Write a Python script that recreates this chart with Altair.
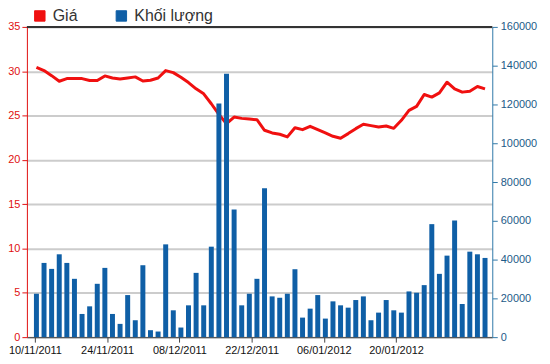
import altair as alt
import pandas as pd

# ---- data ----
date_labels = ["10/11/2011", "24/11/2011", "08/12/2011", "22/12/2011", "06/01/2012", "20/01/2012"]

price = [30.44, 30.07, 29.5, 28.87, 29.17, 29.17, 29.17, 28.95, 28.95, 29.47,
         29.24, 29.13, 29.24, 29.36, 28.9, 28.98, 29.24, 30.07, 29.84, 29.32,
         28.72, 28.01, 27.45, 26.33, 25.13, 24.08, 24.83, 24.68, 24.6, 24.53,
         23.34, 23.04, 22.89, 22.59, 23.63, 23.41, 23.78, 23.41, 23.04, 22.66,
         22.44, 22.96, 23.52, 24.01, 23.86, 23.71, 23.82, 23.56, 24.46, 25.58,
         26.03, 27.37, 27.08, 27.56, 28.76, 28.01, 27.64, 27.75, 28.27, 28.01]

volume = [22390, 38280, 35200, 42730, 38280, 30080, 11960, 15890, 27510, 35720,
          11960, 6840, 21700, 8720, 37090, 3590, 2900, 47850, 13840, 4960,
          16410, 33150, 16410, 46660, 120480, 135870, 65800, 16410, 22390, 30080,
          76730, 21020, 20340, 22390, 35030, 10080, 14700, 21700, 9570, 18460,
          16410, 15210, 19140, 21020, 8720, 12650, 19140, 13840, 12650, 23580,
          22900, 26830, 58280, 32640, 42040, 60160, 17090, 44090, 42730, 40850]

series_names = ["Giá", "Khối lượng"]
series_colors = ["#f01010", "#0f5fa6"]

df = pd.DataFrame({"i": list(range(len(price))), "price": price, "volume": volume})

FONT = "Liberation Sans"
tick_start, tick_step = -0.2, 9.5
label_pos = [tick_start + tick_step * k for k in range(len(date_labels))]
label_expr = "[" + ",".join("'%s'" % d for d in date_labels) + "][round((datum.value - (%s)) / %s)]" % (tick_start, tick_step)

xscale = alt.Scale(domain=[-0.6, 59.3], nice=False, zero=False)
xaxis = alt.Axis(values=label_pos, labelExpr=label_expr, title=None, grid=False,
                 tickSize=5, tickColor="#444", domainColor="#444", labelColor="#111",
                 labelFontSize=11, labelFont=FONT, labelPadding=2, labelFlush=False,
                 labelOverlap=False)

color_scale = alt.Scale(domain=series_names, range=series_colors)
legend = alt.Legend(title=None, orient="none", legendX=5, legendY=-19, direction="horizontal",
                    symbolType="square", symbolSize=110, symbolStrokeWidth=1,
                    symbolStrokeColor="#333", labelFont=FONT, labelFontSize=16,
                    labelColor="#333", columnPadding=36, labelOffset=5)

base = alt.Chart(df)

line = base.transform_calculate(s="'Giá'").mark_line(strokeWidth=3, strokeJoin="round").encode(
    x=alt.X("i:Q", scale=xscale, axis=xaxis),
    y=alt.Y("price:Q", scale=alt.Scale(domain=[0, 35], nice=False),
            axis=alt.Axis(orient="left", values=list(range(0, 36, 5)), title=None,
                          grid=True, gridColor="#cccccc", gridWidth=2,
                          domainColor="#e01010", tickColor="#e01010", labelColor="#e01010",
                          tickSize=5, labelFont=FONT, labelFontSize=11, labelPadding=2)),
    color=alt.Color("s:N", scale=color_scale, legend=legend),
)

bars = base.transform_calculate(s="'Khối lượng'").mark_bar(size=5).encode(
    x=alt.X("i:Q", scale=xscale, axis=xaxis),
    y=alt.Y("volume:Q", scale=alt.Scale(domain=[0, 160000], nice=False),
            axis=alt.Axis(orient="right", values=list(range(0, 160001, 20000)), title=None,
                          format="d", grid=False, domainColor="#2f78a8", tickColor="#2f78a8",
                          labelColor="#1d5a88", tickSize=5, labelFont=FONT,
                          labelFontSize=11, labelPadding=3)),
    color=alt.Color("s:N", scale=color_scale, legend=legend),
)

top_line = alt.Chart(pd.DataFrame({"k": [0]})).mark_rule(color="#333", strokeWidth=2).encode(
    y=alt.value(0)
)

chart = alt.layer(line, bars, top_line).resolve_scale(y="independent").properties(
    width=468, height=312,
    padding={"left": 19, "top": 18, "right": 50, "bottom": 26},
    autosize=alt.AutoSizeParams(type="none"),
).configure_view(stroke=None)

chart.save("out.html", embed_options={"renderer": "svg", "actions": False})
